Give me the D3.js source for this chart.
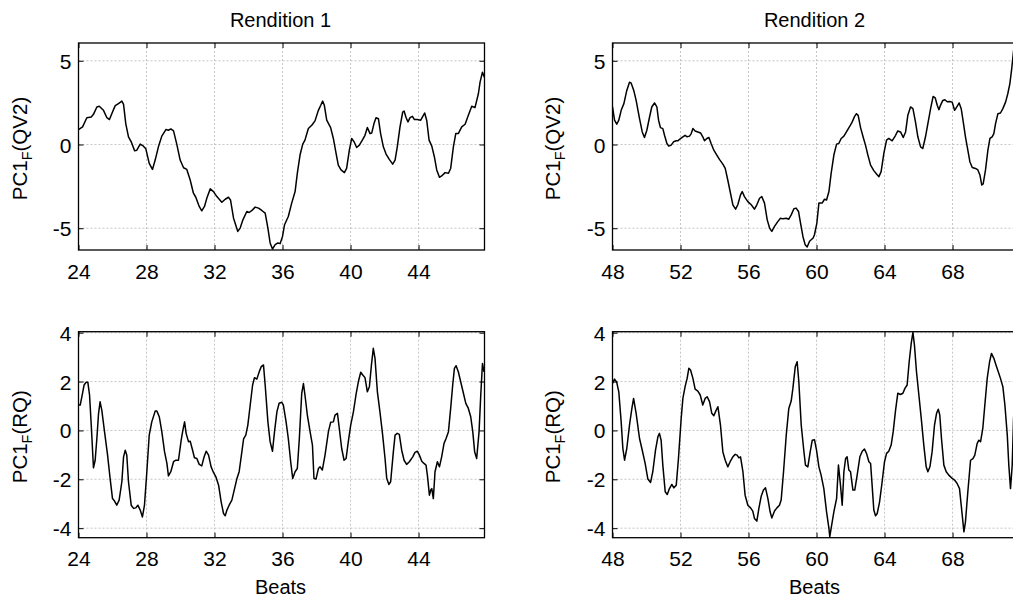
<!DOCTYPE html>
<html><head><meta charset="utf-8">
<script src="https://cdn.jsdelivr.net/npm/d3@7"></script>
<style>body{margin:0;background:#fff} text{font-family:"Liberation Sans",Arial,Helvetica,sans-serif;fill:#000}</style>
</head><body><svg id="c" width="1013" height="600"></svg>
<script>
// ---- data: [beat, value] ----
const rend1QV2 = [[24,0.89],[24.24,1.05],[24.49,1.6],[24.75,1.64],[24.88,1.8],[25.08,2.24],[25.22,2.28],[25.47,2.04],[25.67,1.6],[25.82,1.49],[26.0,1.94],[26.16,2.32],[26.35,2.44],[26.45,2.51],[26.55,2.59],[26.65,2.40],[26.78,1.25],[26.94,0.46],[27.1,0.16],[27.3,-0.38],[27.43,-0.34],[27.63,0.02],[27.82,-0.1],[27.96,-0.26],[28.16,-1.13],[28.35,-1.49],[28.51,-0.93],[28.7,-0.14],[28.9,0.5],[29.14,0.89],[29.29,0.85],[29.43,0.93],[29.59,0.81],[29.78,0.02],[29.98,-0.93],[30.18,-1.39],[30.37,-1.49],[30.57,-2.12],[30.76,-2.91],[30.9,-3.15],[31.1,-3.7],[31.25,-3.96],[31.41,-3.7],[31.55,-3.2],[31.75,-2.65],[31.94,-2.81],[32.14,-3.11],[32.43,-3.45],[32.63,-3.27],[32.82,-3.15],[32.94,-3.31],[33.12,-4.4],[33.37,-5.19],[33.51,-4.99],[33.67,-4.5],[33.9,-4.0],[34.04,-4.06],[34.2,-3.94],[34.39,-3.74],[34.59,-3.8],[34.78,-3.94],[34.98,-4.1],[35.14,-4.99],[35.27,-5.88],[35.41,-6.24],[35.57,-5.98],[35.73,-5.88],[35.86,-5.92],[36.0,-5.49],[36.12,-4.79],[36.34,-4.3],[36.54,-3.5],[36.74,-2.81],[36.87,-1.72],[37.03,-0.63],[37.19,0.02],[37.32,0.26],[37.52,0.95],[37.72,1.15],[37.91,1.41],[38.11,2.04],[38.25,2.34],[38.36,2.59],[38.46,2.34],[38.6,1.45],[38.83,1.01],[38.99,0.36],[39.15,-0.53],[39.28,-1.23],[39.44,-1.52],[39.64,-1.68],[39.77,-1.43],[39.93,-0.34],[40.07,0.36],[40.21,0.16],[40.36,-0.18],[40.52,-0.04],[40.72,0.3],[40.85,0.55],[40.99,1.01],[41.15,0.65],[41.25,0.69],[41.38,1.25],[41.5,1.6],[41.64,1.54],[41.77,0.65],[41.93,-0.14],[42.09,-0.57],[42.28,-0.89],[42.48,-1.17],[42.62,-0.93],[42.75,-0.14],[42.91,1.05],[43.07,1.94],[43.15,2.0],[43.27,1.6],[43.38,1.35],[43.5,1.6],[43.64,1.68],[43.76,1.49],[43.93,1.49],[44.13,1.45],[44.25,1.68],[44.36,1.88],[44.48,1.45],[44.62,0.26],[44.78,-0.1],[44.93,-0.73],[45.07,-1.52],[45.23,-1.96],[45.36,-1.88],[45.56,-1.68],[45.76,-1.72],[45.89,-1.43],[46.05,-0.14],[46.19,0.65],[46.34,0.65],[46.54,1.05],[46.74,1.21],[46.93,1.74],[47.13,2.28],[47.32,2.2],[47.52,3.03],[47.62,3.72],[47.76,4.32],[47.87,4.02]];

const rend2QV2 = [[48.0,2.24],[48.12,1.45],[48.25,1.21],[48.37,1.45],[48.51,2.04],[48.67,2.44],[48.84,3.23],[49.0,3.72],[49.1,3.66],[49.25,3.23],[49.39,2.63],[49.59,1.54],[49.75,0.75],[49.88,0.42],[50.02,0.85],[50.18,1.64],[50.31,2.24],[50.47,2.48],[50.61,2.24],[50.71,1.45],[50.82,1.01],[50.96,0.95],[51.06,0.55],[51.2,0.06],[51.31,-0.1],[51.45,-0.04],[51.59,0.16],[51.75,0.22],[51.84,0.22],[51.98,0.34],[52.14,0.46],[52.27,0.55],[52.39,0.46],[52.53,0.5],[52.63,0.65],[52.73,0.95],[52.86,0.81],[53.02,0.75],[53.18,0.69],[53.31,0.46],[53.41,0.22],[53.55,0.36],[53.67,0.42],[53.8,0.06],[53.96,-0.34],[54.1,-0.57],[54.29,-0.89],[54.49,-1.17],[54.63,-1.43],[54.78,-2.12],[54.94,-2.91],[55.08,-3.6],[55.24,-3.86],[55.37,-3.6],[55.53,-3.01],[55.63,-2.81],[55.76,-3.11],[55.96,-3.41],[56.16,-3.6],[56.35,-3.86],[56.49,-3.6],[56.65,-3.21],[56.78,-3.11],[56.94,-3.5],[57.1,-4.5],[57.24,-4.99],[57.37,-5.19],[57.53,-4.89],[57.73,-4.59],[57.88,-4.4],[58.02,-4.44],[58.22,-4.4],[58.37,-4.46],[58.51,-4.2],[58.67,-3.84],[58.8,-3.8],[58.94,-4.0],[59.06,-4.69],[59.2,-5.49],[59.33,-5.98],[59.45,-6.12],[59.59,-5.78],[59.8,-5.58],[59.88,-5.39],[60.02,-4.69],[60.14,-3.5],[60.33,-3.5],[60.47,-3.27],[60.59,-3.31],[60.73,-2.81],[60.86,-1.72],[61.02,-0.63],[61.18,0.02],[61.31,0.06],[61.45,0.36],[61.61,0.5],[61.76,0.75],[61.96,1.09],[62.1,1.35],[62.24,1.68],[62.35,1.84],[62.45,1.74],[62.59,1.01],[62.75,0.42],[62.88,-0.04],[63.02,-0.63],[63.18,-1.23],[63.37,-1.56],[63.53,-1.76],[63.67,-1.92],[63.8,-1.62],[63.96,-0.53],[64.12,0.26],[64.25,0.36],[64.45,0.22],[64.65,0.55],[64.78,0.81],[64.94,0.75],[65.1,0.42],[65.24,0.75],[65.37,1.74],[65.53,2.24],[65.67,2.14],[65.82,1.35],[65.96,0.46],[66.12,-0.14],[66.25,-0.24],[66.41,0.46],[66.55,1.25],[66.71,2.14],[66.86,2.87],[66.98,2.79],[67.1,2.34],[67.2,2.08],[67.29,2.34],[67.43,2.63],[67.55,2.67],[67.69,2.55],[67.84,2.57],[67.98,2.53],[68.12,2.04],[68.27,2.28],[68.39,2.48],[68.51,2.14],[68.63,1.35],[68.76,0.46],[68.9,-0.34],[69.02,-1.03],[69.16,-1.37],[69.35,-1.43],[69.49,-1.52],[69.61,-1.82],[69.72,-2.42],[69.8,-2.36],[69.94,-1.52],[70.08,-0.34],[70.2,0.36],[70.33,0.46],[70.43,0.65],[70.53,1.25],[70.67,1.84],[70.82,1.88],[70.96,2.14],[71.12,2.53],[71.25,3.03],[71.37,3.62],[71.47,4.42],[71.59,5.6],[71.7,6.3]];

const rend1RQ = [[24.0,1.04],[24.1,1.04],[24.2,1.38],[24.33,1.86],[24.45,1.97],[24.55,1.97],[24.65,1.45],[24.75,0.22],[24.88,-1.53],[24.98,-1.22],[25.08,-0.33],[25.18,0.70],[25.27,1.17],[25.37,0.83],[25.53,-0.05],[25.71,-1.01],[25.86,-1.97],[26.0,-2.79],[26.12,-2.89],[26.25,-3.06],[26.39,-2.85],[26.55,-2.1],[26.65,-1.08],[26.75,-0.81],[26.84,-1.01],[26.94,-2.1],[27.1,-3.06],[27.24,-3.19],[27.37,-3.17],[27.49,-3.06],[27.63,-3.26],[27.76,-3.54],[27.88,-3.06],[28.02,-1.69],[28.16,-0.19],[28.31,0.35],[28.51,0.79],[28.61,0.79],[28.75,0.56],[28.9,-0.05],[29.06,-0.87],[29.2,-1.35],[29.29,-1.86],[29.43,-1.69],[29.59,-1.28],[29.73,-1.22],[29.88,-1.22],[30.04,-0.4],[30.14,0.01],[30.24,0.35],[30.33,-0.12],[30.47,-0.46],[30.57,-0.44],[30.71,-0.81],[30.82,-1.12],[30.96,-1.15],[31.1,-1.39],[31.25,-1.45],[31.39,-1.08],[31.51,-0.85],[31.65,-1.01],[31.8,-1.49],[31.94,-1.72],[32.08,-1.9],[32.24,-2.24],[32.39,-2.92],[32.53,-3.4],[32.63,-3.49],[32.73,-3.26],[32.86,-3.06],[33.02,-2.85],[33.18,-2.38],[33.31,-1.99],[33.45,-1.69],[33.61,-0.87],[33.71,-0.35],[33.84,-0.19],[33.96,0.22],[34.1,1.04],[34.24,1.86],[34.35,2.16],[34.49,2.1],[34.63,2.4],[34.75,2.61],[34.88,2.68],[34.98,1.86],[35.14,0.35],[35.27,-0.46],[35.41,-0.85],[35.53,-0.05],[35.67,0.76],[35.8,1.11],[35.96,1.15],[36.05,1.04],[36.21,0.35],[36.34,-0.33],[36.48,-1.28],[36.6,-1.97],[36.74,-1.69],[36.87,-1.56],[36.99,-0.33],[37.13,1.52],[37.23,1.92],[37.32,1.45],[37.46,0.63],[37.62,-0.05],[37.76,-0.6],[37.85,-1.97],[37.97,-1.99],[38.11,-1.56],[38.21,-1.49],[38.34,-1.62],[38.5,-1.01],[38.7,-0.05],[38.83,0.33],[38.99,0.35],[39.09,0.63],[39.23,0.7],[39.34,0.08],[39.48,-0.74],[39.62,-1.22],[39.74,-1.15],[39.87,-0.46],[40.01,0.22],[40.17,0.76],[40.32,1.45],[40.46,1.99],[40.6,2.38],[40.72,2.27],[40.85,2.16],[40.99,1.58],[41.11,1.79],[41.23,2.68],[41.34,3.36],[41.44,2.95],[41.58,1.58],[41.73,0.76],[41.89,-0.19],[42.03,-1.15],[42.13,-1.97],[42.26,-2.21],[42.36,-2.1],[42.52,-0.87],[42.62,-0.19],[42.75,-0.12],[42.87,-0.16],[43.01,-0.81],[43.15,-1.22],[43.3,-1.39],[43.46,-1.28],[43.66,-1.08],[43.79,-0.9],[43.93,-0.85],[44.05,-1.01],[44.19,-1.26],[44.32,-1.35],[44.44,-1.42],[44.52,-1.83],[44.64,-2.65],[44.72,-2.44],[44.78,-2.38],[44.87,-2.79],[44.97,-1.69],[45.11,-1.28],[45.23,-1.49],[45.36,-1.08],[45.5,-0.53],[45.62,-0.33],[45.76,-0.05],[45.89,0.9],[46.01,1.86],[46.11,2.54],[46.21,2.65],[46.34,2.4],[46.48,1.99],[46.64,1.52],[46.78,1.11],[46.93,0.9],[47.07,0.56],[47.19,-0.05],[47.3,-0.87],[47.42,-1.15],[47.56,-0.05],[47.66,1.45],[47.76,2.74],[47.85,2.4]];

const rend2RQ = [[48.0,1.92],[48.12,2.1],[48.25,1.97],[48.37,1.58],[48.51,0.35],[48.61,-0.74],[48.71,-1.22],[48.84,-0.74],[49.0,0.22],[49.14,0.9],[49.24,1.31],[49.39,0.7],[49.59,-0.33],[49.75,-0.81],[49.92,-1.35],[50.08,-1.99],[50.24,-2.13],[50.37,-1.69],[50.53,-0.81],[50.67,-0.26],[50.76,-0.12],[50.86,-0.4],[50.96,-1.42],[51.1,-2.51],[51.22,-2.62],[51.35,-2.38],[51.49,-2.21],[51.61,-2.35],[51.75,-2.24],[51.88,-1.15],[52.04,0.49],[52.14,1.31],[52.27,1.79],[52.39,2.13],[52.49,2.54],[52.59,2.47],[52.73,2.13],[52.86,1.69],[53.02,1.61],[53.16,1.45],[53.31,1.04],[53.45,1.31],[53.57,1.38],[53.71,1.17],[53.84,0.7],[53.96,0.6],[54.1,0.83],[54.2,0.97],[54.35,0.22],[54.49,-0.87],[54.63,-1.22],[54.78,-1.49],[54.92,-1.28],[55.08,-1.08],[55.22,-0.98],[55.33,-1.01],[55.43,-1.12],[55.53,-1.08],[55.67,-1.69],[55.8,-2.65],[55.96,-3.06],[56.12,-3.17],[56.25,-3.3],[56.35,-3.6],[56.49,-3.71],[56.61,-3.19],[56.75,-2.68],[56.88,-2.44],[57.0,-2.35],[57.14,-2.79],[57.27,-3.33],[57.37,-3.58],[57.53,-3.3],[57.67,-3.17],[57.82,-3.06],[57.92,-2.85],[58.06,-1.69],[58.22,-0.19],[58.37,0.9],[58.51,1.2],[58.61,1.72],[58.75,2.61],[58.86,2.81],[58.96,1.99],[59.1,0.22],[59.25,-0.81],[59.35,-1.42],[59.49,-1.49],[59.63,-0.87],[59.75,-0.4],[59.88,-0.38],[60.0,-0.81],[60.14,-1.49],[60.27,-1.83],[60.43,-2.38],[60.59,-3.33],[60.73,-4.01],[60.78,-4.35],[60.86,-4.01],[61.02,-3.33],[61.18,-2.79],[61.29,-1.42],[61.41,-2.24],[61.51,-3.06],[61.61,-1.69],[61.71,-1.15],[61.8,-1.08],[61.9,-1.62],[62.0,-1.69],[62.14,-2.44],[62.25,-2.44],[62.39,-1.83],[62.55,-1.08],[62.69,-0.85],[62.82,-0.76],[62.94,-0.94],[63.08,-1.28],[63.18,-1.35],[63.27,-2.24],[63.37,-3.26],[63.47,-3.49],[63.57,-3.4],[63.71,-2.92],[63.86,-2.1],[64.0,-1.28],[64.12,-0.94],[64.25,-0.85],[64.39,-0.6],[64.51,-0.05],[64.65,0.83],[64.78,1.52],[64.94,1.47],[65.08,1.52],[65.2,1.72],[65.33,1.86],[65.45,2.81],[65.57,3.56],[65.67,4.01],[65.76,3.49],[65.88,2.4],[66.02,1.45],[66.16,0.49],[66.31,-0.6],[66.45,-1.49],[66.55,-1.69],[66.67,-1.49],[66.8,-0.87],[66.94,0.22],[67.06,0.7],[67.16,0.87],[67.25,0.63],[67.35,-0.33],[67.49,-1.42],[67.63,-1.69],[67.78,-1.83],[67.94,-1.94],[68.12,-2.03],[68.27,-2.17],[68.41,-2.38],[68.51,-3.06],[68.61,-3.74],[68.67,-4.15],[68.76,-3.74],[68.9,-2.51],[69.06,-1.22],[69.2,-1.15],[69.31,-1.01],[69.45,-0.53],[69.55,-0.4],[69.65,-0.46],[69.78,0.08],[69.9,1.04],[70.04,2.13],[70.18,2.81],[70.29,3.15],[70.43,2.95],[70.57,2.65],[70.69,2.4],[70.82,2.13],[70.96,1.79],[71.08,1.04],[71.22,-0.19],[71.31,-1.42],[71.41,-2.38],[71.51,-1.42],[71.59,0.49],[71.7,1.6]];

const titles = ["Rendition 1", "Rendition 2"];
const xTicks1 = [24, 28, 32, 36, 40, 44];
const xTicks2 = [48, 52, 56, 60, 64, 68];
const yTicksQV2 = [-5, 0, 5];
const yTicksRQ = [-4, -2, 0, 2, 4];
const yLabels = ["QV2", "RQ"];
const xLabel = "Beats";

// ---- layout ----
const svg = d3.select("#c");
const FONT = '"Liberation Sans",Arial,Helvetica,sans-serif';
const W = 406;      // plot width (px)
const span = 23.88; // beats shown per panel
const rows = [
  {top: 43, bottom: 250, yDom: [-6.3, 6.06], yTicks: yTicksQV2, ylab: yLabels[0]},
  {top: 331.7, bottom: 537.7, yDom: [-4.39, 4.04], yTicks: yTicksRQ, ylab: yLabels[1]}
];
const cols = [
  {left: 78.5, x0: 24, ticks: xTicks1, labX: 26.5},
  {left: 612.5, x0: 48, ticks: xTicks2, labX: 560}
];
const series = [[rend1QV2, rend2QV2], [rend1RQ, rend2RQ]];

rows.forEach((r, ri) => {
  cols.forEach((c, ci) => {
    const x = d3.scaleLinear().domain([c.x0, c.x0 + span]).range([c.left, c.left + W]);
    const y = d3.scaleLinear().domain(r.yDom).range([r.bottom, r.top]);
    const g = svg.append("g");
    const id = "clip" + ri + ci;
    svg.append("clipPath").attr("id", id).append("rect")
      .attr("x", c.left).attr("y", r.top).attr("width", W).attr("height", r.bottom - r.top);

    // grid
    g.selectAll(".gx").data(c.ticks.filter(t => t !== c.x0)).join("line")
      .attr("x1", d => x(d)).attr("x2", d => x(d)).attr("y1", r.top).attr("y2", r.bottom)
      .attr("stroke", "#b8b8b8").attr("stroke-width", 0.8).attr("stroke-dasharray", "2,2");
    g.selectAll(".gy").data(r.yTicks).join("line")
      .attr("x1", c.left).attr("x2", c.left + W).attr("y1", d => y(d)).attr("y2", d => y(d))
      .attr("stroke", "#b8b8b8").attr("stroke-width", 0.8).attr("stroke-dasharray", "2,2");

    // axes via d3 (inward ticks, all sides)
    const tk = 5;
    const ax = svg.append("g").attr("transform", `translate(0,${r.bottom})`)
      .call(d3.axisBottom(x).tickValues(c.ticks).tickSize(-tk).tickFormat(d3.format("d")));
    const axT = svg.append("g").attr("transform", `translate(0,${r.top})`)
      .call(d3.axisTop(x).tickValues(c.ticks).tickSize(-tk).tickFormat(""));
    const ay = svg.append("g").attr("transform", `translate(${c.left},0)`)
      .call(d3.axisLeft(y).tickValues(r.yTicks).tickSize(-tk).tickFormat(d => String(d)));
    const ayR = svg.append("g").attr("transform", `translate(${c.left + W},0)`)
      .call(d3.axisRight(y).tickValues(r.yTicks).tickSize(-tk).tickFormat(""));
    [ax, axT, ay, ayR].forEach(a => {
      a.select(".domain").remove();
      a.selectAll(".tick line").attr("stroke", "#000").attr("stroke-width", 1);
      a.selectAll("text").attr("font-size", 21).attr("font-family", FONT).attr("fill", "#000");
    });
    ax.selectAll("text").attr("dy", "0.72em").attr("y", 13.5);
    ay.selectAll("text").attr("dy", "0.36em").attr("x", -7);

    // data line
    const line = d3.line().x(d => x(d[0])).y(d => y(d[1]));
    svg.append("path").datum(series[ri][ci]).attr("clip-path", `url(#${id})`)
      .attr("d", line).attr("fill", "none").attr("stroke", "#000").attr("stroke-width", 1.5)
      .attr("stroke-linejoin", "round");

    // frame
    svg.append("rect").attr("x", c.left).attr("y", r.top).attr("width", W).attr("height", r.bottom - r.top)
      .attr("fill", "none").attr("stroke", "#000").attr("stroke-width", 1.3);

    // y label
    const cy = (r.top + r.bottom) / 2 + 2;
    const t = svg.append("text").attr("transform", `translate(${c.labX},${cy}) rotate(-90)`)
      .attr("text-anchor", "middle").attr("font-size", 20.5);
    t.append("tspan").text("PC1");
    t.append("tspan").text("F").attr("font-size", 14.5).attr("dy", 5);
    t.append("tspan").text("(" + r.ylab + ")").attr("dy", -5);

    // title / x label
    if (ri === 0) svg.append("text").attr("x", c.left + W / 2 - 1).attr("y", 27)
      .attr("text-anchor", "middle").attr("font-size", 20).text(titles[ci]);
    if (ri === 1) svg.append("text").attr("x", c.left + W / 2 - 1).attr("y", 594)
      .attr("text-anchor", "middle").attr("font-size", 20).text(xLabel);
  });
});
</script></body></html>
